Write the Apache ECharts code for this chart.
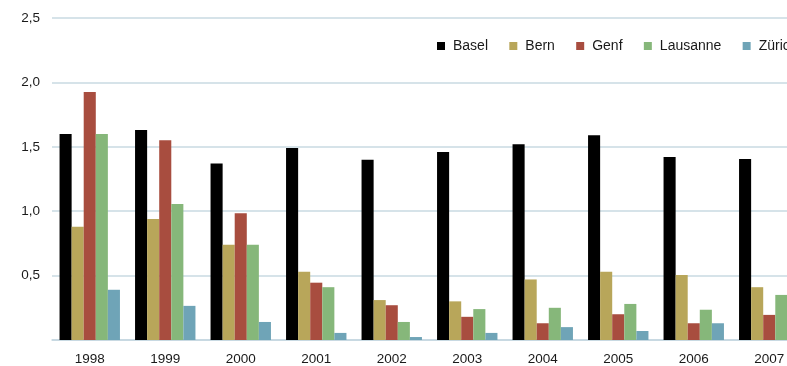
<!DOCTYPE html>
<html>
<head>
<meta charset="utf-8">
<script src="https://cdn.jsdelivr.net/npm/echarts@6/dist/echarts.min.js"></script>
<style>
  html, body { margin: 0; padding: 0; overflow: hidden; background: #fff; }
  #main { width: 815px; height: 366px; }
</style>
</head>
<body>
<div id="main"></div>
<script>
// Daten
var years = ['1998', '1999', '2000', '2001', '2002', '2003', '2004', '2005', '2006', '2007'];
var basel    = [1.60, 1.63, 1.37, 1.49, 1.40, 1.46, 1.52, 1.59, 1.42, 1.405];
var bern     = [0.88, 0.94, 0.74, 0.53, 0.31, 0.30, 0.47, 0.53, 0.505, 0.41];
var genf     = [1.925, 1.55, 0.985, 0.445, 0.27, 0.18, 0.13, 0.20, 0.13, 0.195];
var lausanne = [1.60, 1.055, 0.74, 0.41, 0.14, 0.24, 0.25, 0.28, 0.235, 0.35];
var zuerich  = [0.39, 0.265, 0.14, 0.055, 0.023, 0.055, 0.10, 0.07, 0.13, 0.085];
var yTicks = [0, 0.5, 1.0, 1.5, 2.0, 2.5];

var colors = ['#000000', '#B8A65A', '#A84D3F', '#86B77A', '#6FA4B7'];
var names = ['Basel', 'Bern', 'Genf', 'Lausanne', 'Zürich'];
var values = [basel, bern, genf, lausanne, zuerich];

var myChart = echarts.init(document.getElementById('main'));

var option = {
  animation: false,
  color: colors,
  textStyle: { fontFamily: 'Liberation Sans, Arial, sans-serif' },
  legend: {
    left: 432,
    top: 34,
    width: 400,
    icon: 'rect',
    itemWidth: 8,
    itemHeight: 8,
    itemGap: 21.3,
    textStyle: { fontSize: 14, color: '#1a1a1a', padding: [0, 0, 0, 3] },
    data: names
  },
  grid: {
    left: 52,
    right: 8,
    top: 18,
    bottom: 26
  },
  xAxis: {
    type: 'category',
    data: years,
    axisTick: { show: false },
    axisLine: { lineStyle: { color: '#C3D6DF', width: 1.5 } },
    axisLabel: { fontSize: 13.5, color: '#1a1a1a', margin: 12 }
  },
  yAxis: {
    type: 'value',
    min: yTicks[0],
    max: yTicks[yTicks.length - 1],
    interval: 0.5,
    axisLine: { show: false },
    axisTick: { show: false },
    splitLine: { lineStyle: { color: '#C8DAE2', width: 1.5 } },
    axisLabel: {
      fontSize: 13.5,
      color: '#1a1a1a',
      margin: 12,
      formatter: function (v) {
        return v === 0 ? '' : v.toFixed(1).replace('.', ',');
      }
    }
  },
  series: names.map(function (n, i) {
    return {
      name: n,
      type: 'bar',
      data: values[i],
      barGap: '0%',
      barCategoryGap: '20%'
    };
  })
};

myChart.setOption(option);
</script>
</body>
</html>
